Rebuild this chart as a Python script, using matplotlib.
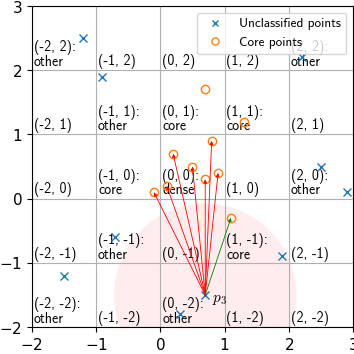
import numpy as np
import matplotlib.pyplot as plt
from matplotlib.patches import Circle
from matplotlib import rcParams

rcParams.update({'font.size': 10,
                 'mathtext.fontset': 'cm',
                 'axes.formatter.use_mathtext': True})

# Points
unclassified_x = [-1.2, -0.9, 2.2, 2.5, 2.9, 1.9, 0.7, 0.3, -0.7, -1.5]
unclassified_y = [2.5, 1.9, 2.2, 0.5, 0.1, -0.9, -1.5, -1.8, -0.6, -1.2]
core_x = [0.7, 1.3, 0.8, 0.2, 0.5, 0.9, 0.7, 0.1, -0.1, 1.1]
core_y = [1.7, 1.2, 0.9, 0.7, 0.5, 0.4, 0.3, 0.2, 0.1, -0.3]

# query point p3 and its neighbourhood
p3 = (0.7, -1.5)
radius = 1.42
red_targets = [2, 3, 4, 5, 6, 7, 8]
green_targets = [9]

# grid cells and their type ('' = no type shown)
cell_i = [-2, -1, 0, 1, 2]
cell_j = [2, 1, 0, -1, -2]
cell_types = [
    ['other', '', '', '', 'other'],
    ['', 'other', 'core', 'core', ''],
    ['', 'core', 'dense', '', 'other'],
    ['', 'other', '', 'core', ''],
    ['other', '', 'other', '', ''],
]

fig = plt.figure(figsize=(3.54, 3.54), dpi=100)
ax = fig.add_axes([0.09, 0.076, 0.907, 0.907])

ax.add_patch(Circle(p3, radius, color='red', alpha=0.07, lw=0, zorder=0))

for r, j in enumerate(cell_j):
    for c, i in enumerate(cell_i):
        label = '({}, {})'.format(i, j)
        if cell_types[r][c]:
            label += ':\n' + cell_types[r][c]
        ax.text(i + 0.03, j + 0.02, label, family='cmss10', fontsize=10,
                va='bottom', ha='left', linespacing=0.95, zorder=1)

ax.plot(unclassified_x, unclassified_y, 'x', color='C0', ms=5.5, mew=1,
        label='Unclassified points', zorder=3)
ax.plot(core_x, core_y, 'o', mfc='none', color='C1', ms=6, mew=1,
        label='Core points', zorder=3)

for k in red_targets + green_targets:
    col = 'green' if k in green_targets else 'red'
    ax.annotate('', xy=(core_x[k], core_y[k]), xytext=p3,
                arrowprops=dict(arrowstyle='-|>', color=col, lw=0.6,
                                mutation_scale=5, shrinkA=0, shrinkB=0),
                zorder=4)

ax.text(p3[0] + 0.1, p3[1] - 0.07, '$p_3$', fontsize=11, va='center')

ax.set_xlim(-2, 3)
ax.set_ylim(-2, 3)
ax.set_aspect('equal')
ax.set_xticks(range(-2, 4))
ax.set_yticks(range(-2, 4))
ax.grid(True, color='#b0b0b0', lw=0.8)
ax.tick_params(labelsize=11)

leg = ax.legend(loc='upper right', prop={'family': 'cmss10', 'size': 9.5},
                markerscale=0.85)
leg.set_zorder(5)

plt.savefig('out.png', dpi=100)
